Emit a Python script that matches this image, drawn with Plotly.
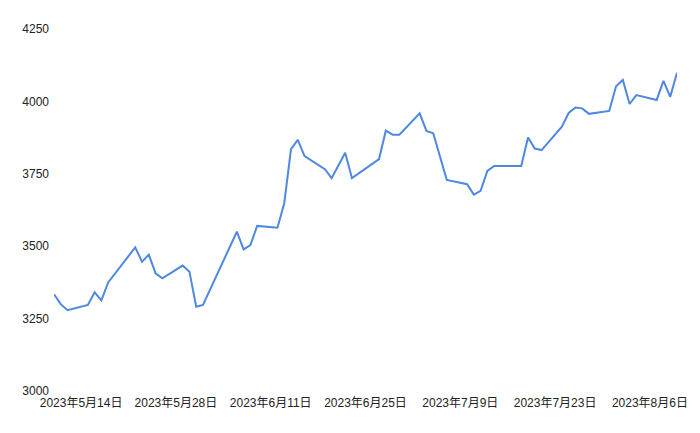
import plotly.graph_objects as go

dates = [
    "2023-05-10", "2023-05-11", "2023-05-12", "2023-05-15", "2023-05-16", "2023-05-17",
    "2023-05-18", "2023-05-22", "2023-05-23", "2023-05-24", "2023-05-25", "2023-05-26",
    "2023-05-29", "2023-05-30", "2023-05-31", "2023-06-01", "2023-06-06", "2023-06-07",
    "2023-06-08", "2023-06-09", "2023-06-12", "2023-06-13", "2023-06-14", "2023-06-15",
    "2023-06-16", "2023-06-19", "2023-06-20", "2023-06-22", "2023-06-23", "2023-06-27",
    "2023-06-28", "2023-06-29", "2023-06-30", "2023-07-03", "2023-07-04", "2023-07-05",
    "2023-07-07", "2023-07-10", "2023-07-11", "2023-07-12", "2023-07-13", "2023-07-14",
    "2023-07-18", "2023-07-19", "2023-07-20", "2023-07-21", "2023-07-24", "2023-07-25",
    "2023-07-26", "2023-07-27", "2023-07-28", "2023-07-31", "2023-08-01", "2023-08-02",
    "2023-08-03", "2023-08-04", "2023-08-07", "2023-08-08", "2023-08-09", "2023-08-10",
]
values = [
    3334, 3300, 3279, 3297, 3341, 3313,
    3375, 3496, 3446, 3471, 3406, 3389,
    3433, 3412, 3291, 3297, 3550, 3489,
    3504, 3570, 3564, 3648, 3835, 3867,
    3811, 3766, 3735, 3823, 3735, 3801,
    3899, 3885, 3885, 3959, 3898, 3890,
    3729, 3714, 3678, 3691, 3760, 3777,
    3777, 3875, 3837, 3832, 3913, 3960,
    3979, 3976, 3957, 3967, 4052, 4074,
    3991, 4022, 4005, 4071, 4016, 4099,
]
x_ticks = ["2023-05-14", "2023-05-28", "2023-06-11", "2023-06-25",
           "2023-07-09", "2023-07-23", "2023-08-06"]
y_ticks = [3000, 3250, 3500, 3750, 4000, 4250]

FONT = "Arial, 'Liberation Sans', 'Noto Sans CJK JP', sans-serif"

fig = go.Figure(
    go.Scatter(
        x=dates, y=values, mode="lines",
        line=dict(color="#4e88e0", width=2),
        hoverinfo="x+y",
    )
)
fig.update_layout(
    width=692, height=425,
    margin=dict(l=46, r=23, t=21, b=42),
    paper_bgcolor="white", plot_bgcolor="white",
    showlegend=False,
    font=dict(family=FONT, size=12, color="#222222"),
)
fig.update_xaxes(
    type="date",
    range=[dates[0], dates[-1]],
    tickvals=x_ticks,
    tickformat="%Y年%-m月%-d日",
    showgrid=False, zeroline=False, showline=False, ticks="",
    ticklabelstandoff=3,
    tickfont=dict(family=FONT, size=12, color="#222222"),
)
fig.update_yaxes(
    range=[3000, 4250],
    tickvals=y_ticks,
    showgrid=False, zeroline=False, showline=False, ticks="",
    ticklabelstandoff=4,
    tickfont=dict(family=FONT, size=12, color="#222222"),
)
fig.write_html("out.html")
